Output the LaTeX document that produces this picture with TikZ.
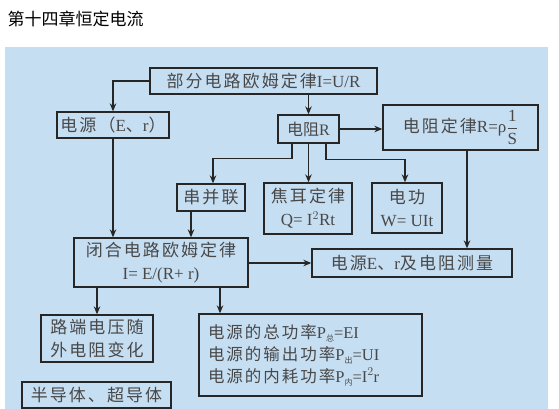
\documentclass[tikz,border=0pt]{standalone}
\usepackage{fontspec}
\setmainfont{Liberation Serif}
\newfontfamily\cjk[LetterSpace=12]{Noto Sans CJK SC}
\newfontfamily\cjkn{Noto Sans CJK SC}
\usetikzlibrary{arrows.meta}
\definecolor{panel}{RGB}{198,222,242}
\definecolor{ink}{RGB}{38,38,38}
\definecolor{txt}{RGB}{72,72,72}
\newcommand{\sbz}[1]{\raisebox{-3pt}{\fontsize{8}{8}\selectfont\cjkn #1}}
\tikzset{
 box/.style={draw=ink, line width=1.3pt, fill=panel, inner sep=0pt, text=txt,
   font=\fontsize{17}{23}\selectfont, align=center},
 arr/.style={draw=ink, line width=1.2pt, -{Stealth[length=8pt,width=6.5pt]}},
}
\begin{document}
\begin{tikzpicture}[x=1pt,y=-1pt]
\useasboundingbox (0,0) rectangle (559,409);
\fill[white] (0,0) rectangle (559,409);
\fill[panel] (5,47) rectangle (548,409);
\node[anchor=west, font=\fontsize{17}{20}\selectfont\cjkn, text=black] (title) at (4,19) {第十四章恒定电流};

\node[box, minimum width=227pt, minimum height=26pt] (b1) at (263.5,81) {{\cjk 部分电路欧姆定律}I=U/R};
\node[box, minimum width=112pt, minimum height=26pt] (b2) at (113,125) {{\cjk 电源（}E{\cjk 、}r{\cjk ）}};
\node[box, minimum width=61pt, minimum height=28pt, font=\fontsize{16}{20}\selectfont] (b3) at (308.5,129) {{\cjkn 电阻}R};
\node[box, minimum width=155pt, minimum height=45pt, font=\fontsize{17}{20}\selectfont] (b4) at (460.5,127.5) {{\cjk 电阻定律}R=ρ$\displaystyle\frac{\mbox{1}}{\mbox{S}}$};
\node[box, minimum width=68pt, minimum height=27pt] (b5) at (211,197.5) {\cjk 串并联};
\node[box, minimum width=88pt, minimum height=51pt] (b6) at (308,208.5) {{\cjk 焦耳定律}\\Q= I$^{2}$Rt};
\node[box, minimum width=70pt, minimum height=50pt] (b7) at (407,208) {{\cjk 电功}\\W= UIt};
\node[box, minimum width=174pt, minimum height=49pt] (b8) at (161,262.5) {{\cjk 闭合电路欧姆定律}\\I= E/(R+ r)};
\node[box, minimum width=200pt, minimum height=28pt] (b9) at (412,263) {{\cjk 电源}E{\cjk 、}r{\cjk 及电阻测量}};
\node[box, minimum width=112pt, minimum height=47pt] (b10) at (97,338.5) {{\cjk 路端电压随}\\{\cjk 外电阻变化}};
\node[box, align=left, text width=205pt, inner xsep=9pt, minimum height=82pt, font=\fontsize{16.5}{22}\selectfont] (b11) at (310.5,355)
  {{\cjk 电源的总功率}P\sbz{总}=EI\\{\cjk 电源的输出功率}P\sbz{出}=UI\\{\cjk 电源的内耗功率}P\sbz{内}=I$^{2}$r};
\node[box, minimum width=149pt, minimum height=26pt] (b12) at (96.5,395) {{\cjk 半导体、超导体}};

\draw[arr] (b1.west) -| (b2.north);
\draw[arr] (b3.north |- b1.south) -- (b3.north);
\draw[arr] (b3.east) -- (b3.east -| b4.west);
\draw[arr] ([xshift=-16.5pt]b3.south) -- ++(0,15) -| ([xshift=2pt]b5.north);
\draw[arr] (b3.south) -- (b3.south |- b6.north);
\draw[arr] ([xshift=17.5pt]b3.south) -- ++(0,16) -| ([xshift=-2pt]b7.north);
\draw[arr] ([xshift=6.5pt]b4.south) -- ([xshift=6.5pt]b4.south |- b9.north);
\draw[arr] (b2.south) -- (b2.south |- b8.north);
\draw[arr, line width=1.8pt] ([xshift=-20pt]b5.south) -- ([xshift=-20pt]b5.south |- b8.north);
\draw[arr] (b8.east |- b9.west) -- (b9.west);
\draw[arr] (b10.north |- b8.south) -- (b10.north);
\draw[arr] ([xshift=-90.5pt]b11.north |- b8.south) -- ([xshift=-90.5pt]b11.north);
\end{tikzpicture}
\end{document}
